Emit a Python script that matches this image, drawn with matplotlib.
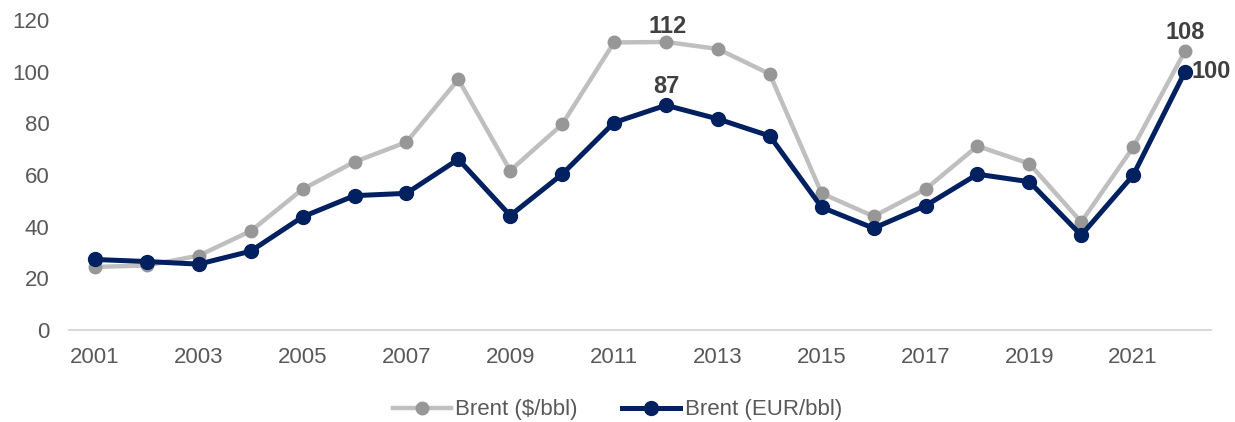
import matplotlib
matplotlib.use("Agg")
import matplotlib.pyplot as plt

years = list(range(2001, 2023))
brent_usd = [24.4, 25.0, 28.8, 38.3, 54.5, 65.1, 72.7, 97.0, 61.7, 79.6, 111.3, 111.5,
             108.8, 99.1, 52.9, 44.0, 54.5, 71.2, 64.4, 41.8, 70.7, 108.0]
brent_eur = [27.3, 26.5, 25.5, 30.5, 43.8, 52.0, 52.9, 66.1, 44.3, 60.3, 80.3, 87.0,
             81.7, 75.1, 47.5, 39.4, 48.1, 60.3, 57.4, 36.7, 59.9, 100.0]
xtick_years = list(range(2001, 2023, 2))
yticks = [0, 20, 40, 60, 80, 100, 120]

plt.rcParams['font.family'] = ['Liberation Sans', 'DejaVu Sans']

fig = plt.figure(figsize=(12.35, 4.22), dpi=100)
ax = fig.add_axes([69/1235, 1 - 330/422, (1211-69)/1235, (330-20)/422])

ax.plot(years, brent_usd, color='#bfbfbf', lw=3.2, marker='o', ms=9,
        mfc='#979797', mec='#979797', label='Brent ($/bbl)', zorder=2)
ax.plot(years, brent_eur, color='#002060', lw=3.6, marker='o', ms=10,
        mfc='#002060', mec='#002060', label='Brent (EUR/bbl)', zorder=3)

lab_kw = dict(fontsize=17, fontweight='bold', color='#404040')
i12 = years.index(2012)
ax.annotate('112', (years[i12], brent_usd[i12]), xytext=(1, 3), textcoords='offset points',
            ha='center', va='bottom', **lab_kw)
ax.annotate('87', (years[i12], brent_eur[i12]), xytext=(0, 5), textcoords='offset points',
            ha='center', va='bottom', **lab_kw)
ax.annotate('108', (years[-1], brent_usd[-1]), xytext=(0, 5), textcoords='offset points',
            ha='center', va='bottom', **lab_kw)
ax.annotate('100', (years[-1], brent_eur[-1]), xytext=(5, 0), textcoords='offset points',
            ha='left', va='center', **lab_kw)

ax.set_xlim(2000.5, 2022.5)
ax.set_ylim(0, 120)
ax.set_xticks(xtick_years)
ax.set_xticklabels([str(y) for y in xtick_years])
ax.set_yticks(yticks)
ax.tick_params(axis='both', length=0, labelsize=16, colors='#595959')
ax.tick_params(axis='x', pad=12)
ax.tick_params(axis='y', pad=14)
for s in ['top', 'right', 'left']:
    ax.spines[s].set_visible(False)
ax.spines['bottom'].set_color('#d9d9d9')
ax.spines['bottom'].set_linewidth(1.5)

leg = fig.legend(loc='center', bbox_to_anchor=(0.5, 1 - 410/422), ncol=2, frameon=False,
                 fontsize=16, labelcolor='#595959', handlelength=2.6, columnspacing=2.0,
                 handletextpad=0.2)
fig.savefig('out.png', dpi=100)
